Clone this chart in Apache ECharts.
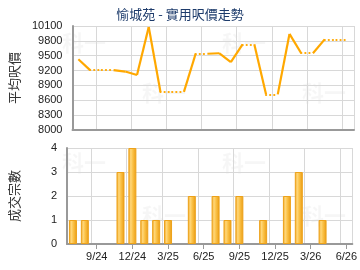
<!DOCTYPE html>
<html>
<head>
<meta charset="utf-8">
<script src="https://cdn.jsdelivr.net/npm/echarts@6/dist/echarts.min.js"></script>
<style>
  html, body { margin: 0; padding: 0; background: #fff; }
  #main { width: 360px; height: 270px; }
</style>
</head>
<body>
<div id="main"></div>
<script>
var months = ['7/24','8/24','9/24','10/24','11/24','12/24','1/25','2/25','3/25','4/25','5/25','6/25',
              '7/25','8/25','9/25','10/25','11/25','12/25','1/26','2/26','3/26','4/26','5/26','6/26'];
// average price per sq ft, null = no record that month (carried forward as dotted)
var price = [9430, 9210, null, null, 9180, 9110, 10080, 8770, null, null, 9540, null,
             9550, 9370, 9730, null, 8720, null, 9940, 9550, null, 9830, null, null];
var deals = [1, 1, 0, 0, 3, 4, 1, 1, 1, 0, 2, 0, 2, 1, 2, 0, 1, 0, 2, 3, 0, 1, 0, 0];
var priceMin = 8000;

var myChart = echarts.init(document.getElementById('main'), null, {renderer: 'canvas'});

// fill gaps with last known price
var filled = [];
var last = null;
price.forEach(function(p) {
  if (p != null) last = p;
  filled.push(last);
});

// segments: solid when ending on a real record, dotted when ending on a gap
var segs = [];
for (var i = 1; i < filled.length; i++) {
  segs.push({
    coords: [[i - 1, filled[i - 1] - priceMin], [i, filled[i] - priceMin]],
    lineStyle: price[i] != null ? {type: 'solid'} : {type: [0.1, 4], cap: 'round'}
  });
}

function showTick(idx) { return (idx - 2) % 3 === 0; }

var axisFont = {color: '#222', fontSize: 11, fontFamily: 'Liberation Sans, Arial, sans-serif'};
var gray = '#d8d8d8';

var marks = [[62, 32], [222, 32], [142, 82], [302, 82], [62, 152], [222, 152], [142, 205], [302, 205]];

option = {
  animation: false,
  title: {
    text: '愉城苑 - 實用呎價走勢',
    left: 'center',
    top: 3,
    textStyle: {color: '#1d3b6b', fontSize: 13, fontWeight: 'normal', fontFamily: 'Noto Sans CJK TC'}
  },
  graphic: marks.map(function(m) {
    return {type: 'text', left: m[0], top: m[1], z: -1, silent: true,
      style: {text: '科一', fill: 'rgba(0,0,0,0.035)', font: 'bold 22px Noto Sans CJK TC'}};
  }),
  grid: [
    {left: 66, right: 6, top: 26, height: 104},
    {left: 66, right: 6, top: 148, height: 96}
  ],
  xAxis: [{
    gridIndex: 0,
    type: 'category',
    data: months,
    boundaryGap: true,
    axisLine: {lineStyle: {color: '#999', width: 2}},
    axisTick: {show: false},
    axisLabel: {show: false},
    splitLine: {show: true, interval: function(idx) { return showTick(idx); }, lineStyle: {color: gray}}
  }, {
    gridIndex: 1,
    type: 'category',
    data: months,
    boundaryGap: true,
    axisLine: {lineStyle: {color: '#999', width: 2}},
    axisTick: {show: true, alignWithLabel: true, length: 5, interval: function(idx) { return showTick(idx); }, lineStyle: {color: '#999'}},
    axisLabel: Object.assign({interval: function(idx) { return showTick(idx); }, margin: 7}, axisFont),
    splitLine: {show: true, interval: function(idx) { return showTick(idx); }, lineStyle: {color: gray}}
  }],
  yAxis: [{
    gridIndex: 0,
    type: 'value',
    min: 0,
    max: 2100,
    interval: 300,
    name: '平均呎價',
    nameLocation: 'middle',
    nameRotate: 90,
    nameGap: 46,
    nameTextStyle: {color: '#333', fontSize: 13, fontFamily: 'Noto Sans CJK TC'},
    axisLine: {show: true, lineStyle: {color: '#999', width: 2}},
    axisTick: {show: false},
    axisLabel: Object.assign({margin: 10, formatter: function(v) { return v + priceMin; }}, axisFont),
    splitLine: {lineStyle: {color: gray}}
  }, {
    gridIndex: 1,
    type: 'value',
    min: 0,
    max: 4,
    interval: 1,
    name: '成交宗數',
    nameLocation: 'middle',
    nameRotate: 90,
    nameGap: 46,
    nameTextStyle: {color: '#333', fontSize: 13, fontFamily: 'Noto Sans CJK TC'},
    axisLine: {show: true, lineStyle: {color: '#999', width: 2}},
    axisTick: {show: false},
    axisLabel: Object.assign({margin: 10}, axisFont),
    splitLine: {lineStyle: {color: gray}}
  }],
  series: [{
    name: '平均呎價',
    type: 'lines',
    coordinateSystem: 'cartesian2d',
    xAxisIndex: 0,
    yAxisIndex: 0,
    lineStyle: {color: '#ffa800', width: 2.2, opacity: 1},
    data: segs
  }, {
    name: '成交宗數',
    type: 'bar',
    xAxisIndex: 1,
    yAxisIndex: 1,
    barWidth: 8,
    // months without deals draw no bar
    data: deals.map(function(d) { return d > 0 ? d : null; }),
    itemStyle: {
      borderColor: '#eda21a',
      borderWidth: 1,
      color: new echarts.graphic.LinearGradient(0, 0, 1, 0, [
        {offset: 0, color: '#eea21c'},
        {offset: 0.3, color: '#ffd77a'},
        {offset: 0.55, color: '#fbc247'},
        {offset: 1, color: '#e99a12'}
      ])
    }
  }]
};

myChart.setOption(option);
</script>
</body>
</html>
